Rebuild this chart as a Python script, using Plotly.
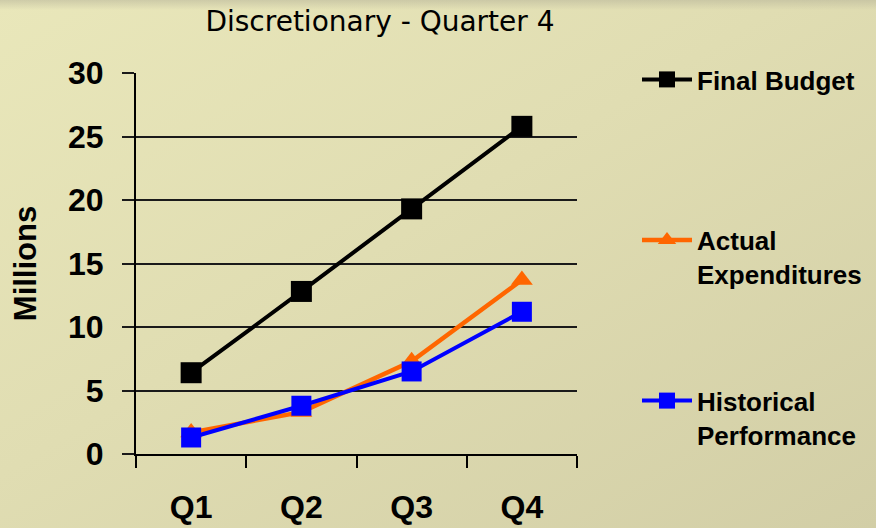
import base64
import plotly.graph_objects as go

# Quarterly discretionary figures, in millions
quarters = ["Q1", "Q2", "Q3", "Q4"]
final_budget = [6.4, 12.8, 19.3, 25.8]
actual_expenditures = [1.7, 3.3, 7.3, 13.7]
historical_performance = [1.3, 3.8, 6.5, 11.2]

series_names = ["Final Budget<br> ", "Actual<br>Expenditures", "Historical<br>Performance"]
y_ticks = [0, 5, 10, 15, 20, 25, 30]

W, H = 876, 528
L, R, T, B = 136, 299, 73, 74
pw, ph = W - L - R, H - T - B

# soft khaki backdrop
bg_svg = f"""<svg xmlns='http://www.w3.org/2000/svg' width='{W}' height='{H}'>
<defs>
<linearGradient id='g' x1='0' y1='0' x2='1' y2='1'>
<stop offset='0' stop-color='#e9e7ba'/>
<stop offset='0.45' stop-color='#e0ddb2'/>
<stop offset='1' stop-color='#d2cea6'/>
</linearGradient>
<linearGradient id='t' x1='0' y1='0' x2='0' y2='1'>
<stop offset='0' stop-color='#b8b59a' stop-opacity='0.55'/>
<stop offset='1' stop-color='#b8b59a' stop-opacity='0'/>
</linearGradient>
</defs>
<rect width='{W}' height='{H}' fill='url(#g)'/>
<rect width='{W}' height='10' fill='url(#t)'/>
</svg>"""
bg_uri = "data:image/svg+xml;base64," + base64.b64encode(bg_svg.encode()).decode()

fig = go.Figure()

fig.add_trace(go.Scatter(
    x=quarters, y=final_budget, name=series_names[0], mode="lines+markers",
    line=dict(color="#000000", width=4),
    marker=dict(symbol="square", size=21, color="#000000"),
    legendgroup="a",
))
fig.add_trace(go.Scatter(
    x=quarters, y=actual_expenditures, name=series_names[1], mode="lines+markers",
    line=dict(color="#ff6600", width=4.5),
    marker=dict(symbol="triangle-up", size=19, color="#ff6600"),
    legendgroup="b",
))
fig.add_trace(go.Scatter(
    x=quarters, y=historical_performance, name=series_names[2], mode="lines+markers",
    line=dict(color="#0000ff", width=4),
    marker=dict(symbol="square", size=20, color="#0000ff"),
    legendgroup="c",
))

tick_font = dict(family="Liberation Sans, Arial, sans-serif", size=32, color="#000000", weight="bold")

fig.update_layout(
    width=W, height=H,
    margin=dict(l=L, r=R, t=T, b=B, pad=0, autoexpand=False),
    paper_bgcolor="#dedbb0",
    plot_bgcolor="rgba(0,0,0,0)",
    images=[dict(
        source=bg_uri, xref="paper", yref="paper",
        x=-L / pw, y=1 + T / ph, sizex=W / pw, sizey=H / ph,
        xanchor="left", yanchor="top", sizing="stretch", layer="below",
    )],
    title=dict(
        text="Discretionary - Quarter 4",
        font=dict(family="DejaVu Sans, Verdana, sans-serif", size=28, color="#000000"),
        xref="container", yref="container",
        x=380 / W, xanchor="center", y=1 - 21 / H, yanchor="middle",
    ),
    showlegend=True,
    legend=dict(
        x=(637 - L) / pw, xanchor="left",
        y=1 + (T - 56) / ph, yanchor="top",
        bgcolor="rgba(0,0,0,0)",
        font=dict(family="Liberation Sans, Arial, sans-serif",
                  size=26, color="#000000", weight="bold"),
        valign="top",
        tracegroupgap=90,
        traceorder="grouped",
        itemwidth=50,
        maxheight=470,
    ),
    xaxis=dict(
        type="category", categoryorder="array", categoryarray=quarters,
        range=[-0.5, 3.5],
        tickson="boundaries", ticks="outside", ticklen=12, tickwidth=2, tickcolor="#000000",
        showline=True, linecolor="#000000", linewidth=2,
        showgrid=False, zeroline=False,
        tickfont=tick_font, ticklabelstandoff=24,
    ),
    yaxis=dict(
        range=[0, 30], tickvals=y_ticks, ticktext=[str(v) for v in y_ticks],
        ticks="outside", ticklen=12, tickwidth=2, tickcolor="#1a1a1a",
        showline=True, linecolor="#000000", linewidth=2,
        showgrid=True, gridcolor="#1a1a1a", gridwidth=2,
        zeroline=False,
        tickfont=tick_font, ticklabelstandoff=12,
        title=dict(text="Millions", font=dict(family="Liberation Sans, Arial, sans-serif",
                                             size=31, color="#000000", weight="bold"),
                   standoff=22),
    ),
)

fig.write_html("out.html")
